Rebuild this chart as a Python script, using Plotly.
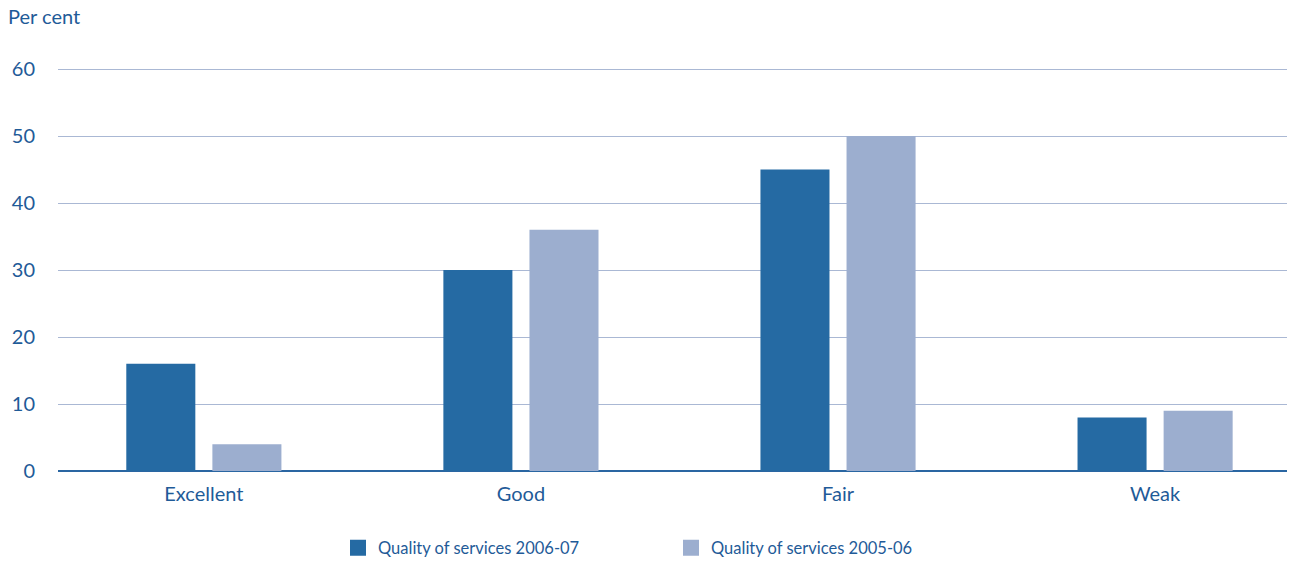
import plotly.graph_objects as go

categories = ["Excellent", "Good", "Fair", "Weak"]
series_2006_07 = [16, 30, 45, 8]
series_2005_06 = [4, 36, 50, 9]
series_names = ["Quality of services 2006-07", "Quality of services 2005-06"]
y_ticks = [0, 10, 20, 30, 40, 50, 60]

dark_blue = "#256aa3"
light_blue = "#9caecf"
text_blue = "#1f5b98"
font_family = "Lato, 'Noto Sans', sans-serif"

fig = go.Figure()

for name, vals, col in [(series_names[0], series_2006_07, dark_blue),
                        (series_names[1], series_2005_06, light_blue)]:
    fig.add_trace(go.Bar(x=categories, y=vals, name=name, marker_color=col,
                         marker_line_width=0, showlegend=False, legendgroup=name))
    # larger square legend key
    fig.add_trace(go.Scatter(x=[None], y=[None], mode="markers", name=name,
                             legendgroup=name,
                             marker=dict(symbol="square", size=22, color=col)))

plot_w = 1290 - 58 - 3
plot_h = 566 - 66 - 95
y_top = 60 * plot_h / 402  # keeps 60 three px below the plot top so its grid line shows

fig.update_layout(
    width=1290, height=566,
    margin=dict(l=58, r=3, t=66, b=95, autoexpand=False),
    plot_bgcolor="white", paper_bgcolor="white",
    barmode="group", bargap=0.457, bargroupgap=0.198,
    font=dict(family=font_family, color=text_blue, size=19),
    xaxis=dict(range=[-0.46, 3.416], showgrid=False, showline=False,
               ticks="outside", ticklen=5, tickcolor="rgba(0,0,0,0)",
               tickfont=dict(size=20, color=text_blue)),
    yaxis=dict(range=[0, y_top], tickvals=y_ticks, showgrid=True,
               gridcolor="#aab8d4", gridwidth=1, zeroline=True,
               zerolinecolor="#2a66a2", zerolinewidth=2,
               ticklabelstandoff=22, tickfont=dict(size=20, color=text_blue)),
    legend=dict(orientation="h", x=(338 - 58) / plot_w, xanchor="left",
                y=-0.147, yanchor="top", font=dict(size=16.5, color=text_blue),
                itemsizing="trace", traceorder="normal", itemwidth=30,
                entrywidth=288, entrywidthmode="pixels"),
    annotations=[dict(text="Per cent", xref="paper", yref="paper",
                      x=-52 / plot_w, y=1 + 50 / plot_h, xanchor="left",
                      yanchor="middle", showarrow=False,
                      font=dict(size=20, color=text_blue))],
)

fig.write_html("out.html")
